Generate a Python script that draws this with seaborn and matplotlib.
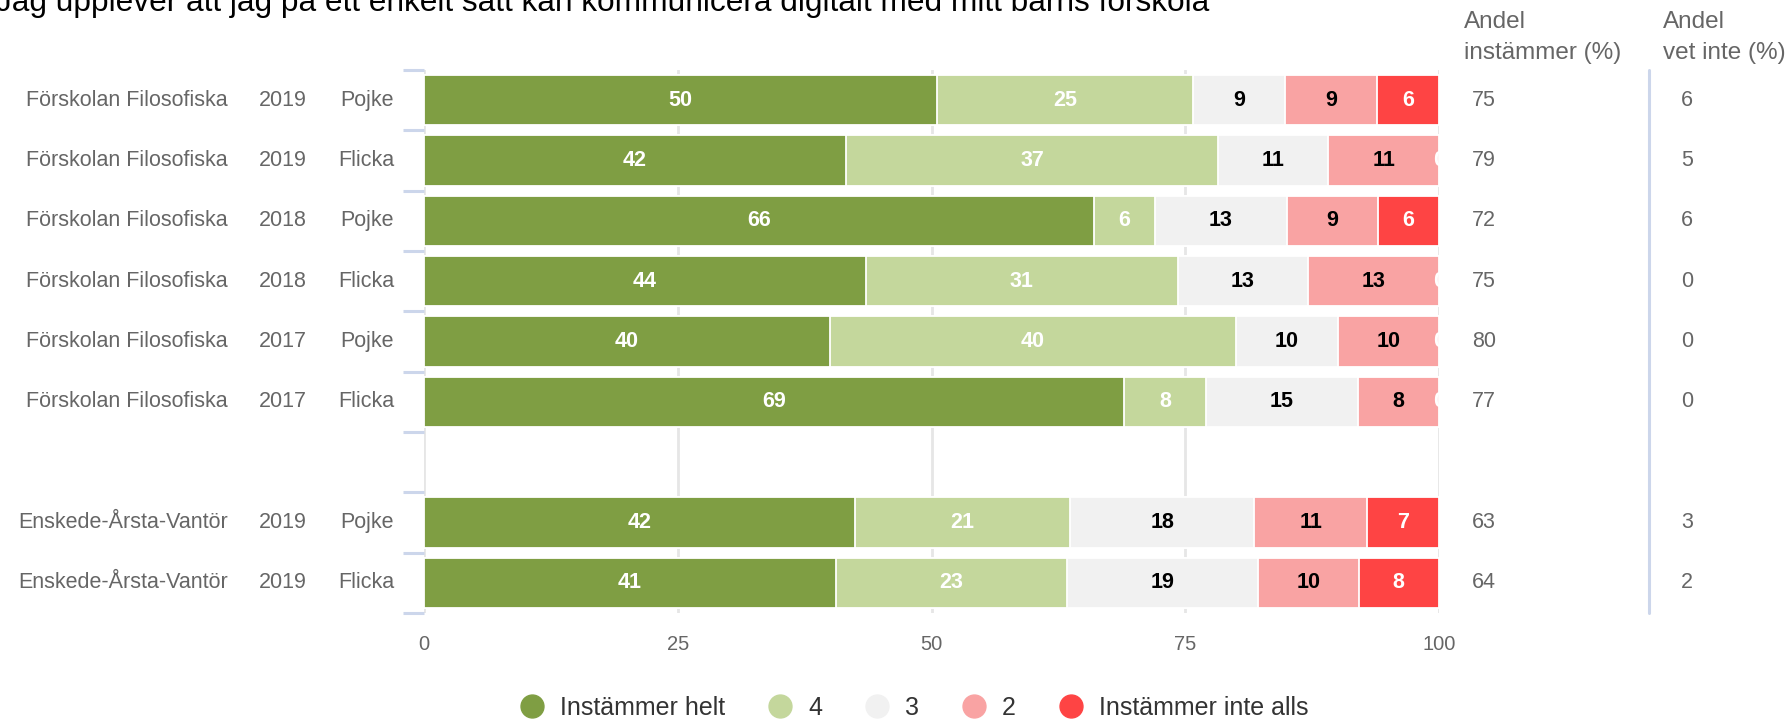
import matplotlib
matplotlib.use("Agg")
import matplotlib.pyplot as plt
import seaborn as sns
import pandas as pd
import numpy as np
from matplotlib.lines import Line2D

# ---------------- data ----------------
units = ["Förskolan Filosofiska"] * 6 + ["Enskede-Årsta-Vantör"] * 2
years = ["2019", "2019", "2018", "2018", "2017", "2017", "2019", "2019"]
genders = ["Pojke", "Flicka", "Pojke", "Flicka", "Pojke", "Flicka", "Pojke", "Flicka"]
helt = [50, 42, 66, 44, 40, 69, 42, 41]
s4 = [25, 37, 6, 31, 40, 8, 21, 23]
s3 = [9, 11, 13, 13, 10, 15, 18, 19]
s2 = [9, 11, 9, 13, 10, 8, 11, 10]
inte = [6, 0, 6, 0, 0, 0, 7, 8]
andel_instammer = [75, 79, 72, 75, 80, 77, 63, 64]
andel_vet_inte = [6, 5, 6, 0, 0, 0, 3, 2]
series_names = ["Instämmer helt", "4", "3", "2", "Instämmer inte alls"]
x_ticks = [0, 25, 50, 75, 100]
title = "Jag upplever att jag på ett enkelt sätt kan kommunicera digitalt med mitt barns förskola"
header1 = "Andel\ninstämmer (%)"
header2 = "Andel\nvet inte (%)"

colors = ["#7f9e43", "#c4d79c", "#f1f1f1", "#f9a3a3", "#fe4444"]
label_colors = ["white", "white", "black", "black", "white"]

# ---------------- build table ----------------
row_ids = [f"r{i}" for i in range(len(units))]
order = row_ids[:6] + ["gap"] + row_ids[6:]
values = np.array([helt, s4, s3, s2, inte], dtype=float).T  # rows x series
totals = values.sum(axis=1, keepdims=True)
pct = values / totals * 100
right = np.cumsum(pct, axis=1)
left = right - pct

records = []
for i, rid in enumerate(row_ids):
    for j, s in enumerate(series_names):
        records.append(dict(row=rid, series=s, value=values[i, j],
                            left=left[i, j], right=right[i, j]))
df = pd.DataFrame(records)

# ---------------- figure ----------------
sns.set_theme(style="white")
plt.rcParams["font.family"] = ["Liberation Sans", "DejaVu Sans"]

W, H = 1789, 720
fig = plt.figure(figsize=(W / 100, H / 100), dpi=100)
ax_l, ax_r, ax_t, ax_b = 424, 1439, 70, 613
ax = fig.add_axes([ax_l / W, 1 - ax_b / H, (ax_r - ax_l) / W, (ax_b - ax_t) / H])

for j in reversed(range(len(series_names))):
    sub = df[df.series == series_names[j]]
    sns.barplot(data=sub, x="right", y="row", order=order, orient="h",
                color=colors[j], width=0.83, edgecolor="white", linewidth=1.3,
                errorbar=None, ax=ax, saturation=1, zorder=3)

# segment labels
pos = {rid: order.index(rid) for rid in row_ids}
for _, r in df.iterrows():
    j = series_names.index(r.series)
    ax.text((r.left + r.right) / 2, pos[r.row], f"{int(r.value)}",
            ha="center", va="center", fontsize=15.5, fontweight="bold",
            color=label_colors[j], clip_on=True, zorder=5)

ax.set_xlim(0, 100)
ax.set_ylim(len(order) - 0.5, -0.5)
ax.set_xticks(x_ticks)
ax.set_xticklabels([str(t) for t in x_ticks])
ax.set_xlabel("")
ax.set_ylabel("")
ax.set_yticks(range(len(order)))
ax.set_yticklabels([""] * len(order))
ax.set_yticks(np.arange(-0.5, len(order), 1), minor=True)
ax.tick_params(axis="y", which="major", length=0)
ax.tick_params(axis="y", which="minor", length=15, width=2.2, color="#ccd6eb", left=True)
ax.tick_params(axis="x", length=0, pad=16, labelsize=14.5, labelcolor="#666666")
for sp in ax.spines.values():
    sp.set_visible(False)
ax.xaxis.grid(True, color="#e6e6e6", linewidth=2)
ax.yaxis.grid(False)
ax.set_axisbelow(True)

# row labels
ytr = ax.get_yaxis_transform()
ax_w = ax_r - ax_l
def axx(px):
    return (px - ax_l) / ax_w

lab_kw = dict(fontsize=15.5, color="#666666", va="center", transform=ytr, clip_on=False)
for i, rid in enumerate(row_ids):
    y = pos[rid]
    ax.text(axx(228), y, units[i], ha="right", **lab_kw)
    ax.text(axx(283), y, years[i], ha="center", **lab_kw)
    ax.text(axx(394), y, genders[i], ha="right", **lab_kw)
    ax.text(axx(1472), y, str(andel_instammer[i]), ha="left", **lab_kw)
    ax.text(axx(1681), y, str(andel_vet_inte[i]), ha="left", **lab_kw)

# separator line between the two right columns
ax.plot([axx(1649), axx(1649)], [0, 1], transform=ax.transAxes, clip_on=False,
        color="#ccd6eb", linewidth=2.2)

# headers
fig.text(1464 / W, 1 - 11 / H, header1, ha="left", va="top", fontsize=17.5,
         color="#666666", linespacing=1.5)
fig.text(1663 / W, 1 - 11 / H, header2, ha="left", va="top", fontsize=17.5,
         color="#666666", linespacing=1.5)

# title (partly cut at top as in the reference)
fig.text(-4 / W, 1 - 11 / H, title, ha="left", va="baseline", fontsize=22.8, color="black")

# legend
handles = [Line2D([0], [0], marker="o", linestyle="", markersize=16.5,
                  markerfacecolor=c, markeredgecolor=c) for c in colors]
fig.legend(handles, series_names, loc="center", ncol=5, frameon=False,
           bbox_to_anchor=(914 / W, 1 - 708 / H), fontsize=18,
           handlelength=1.0, handletextpad=0.62, columnspacing=1.7,
           labelcolor="#333333")

fig.savefig("out.png", dpi=100)
